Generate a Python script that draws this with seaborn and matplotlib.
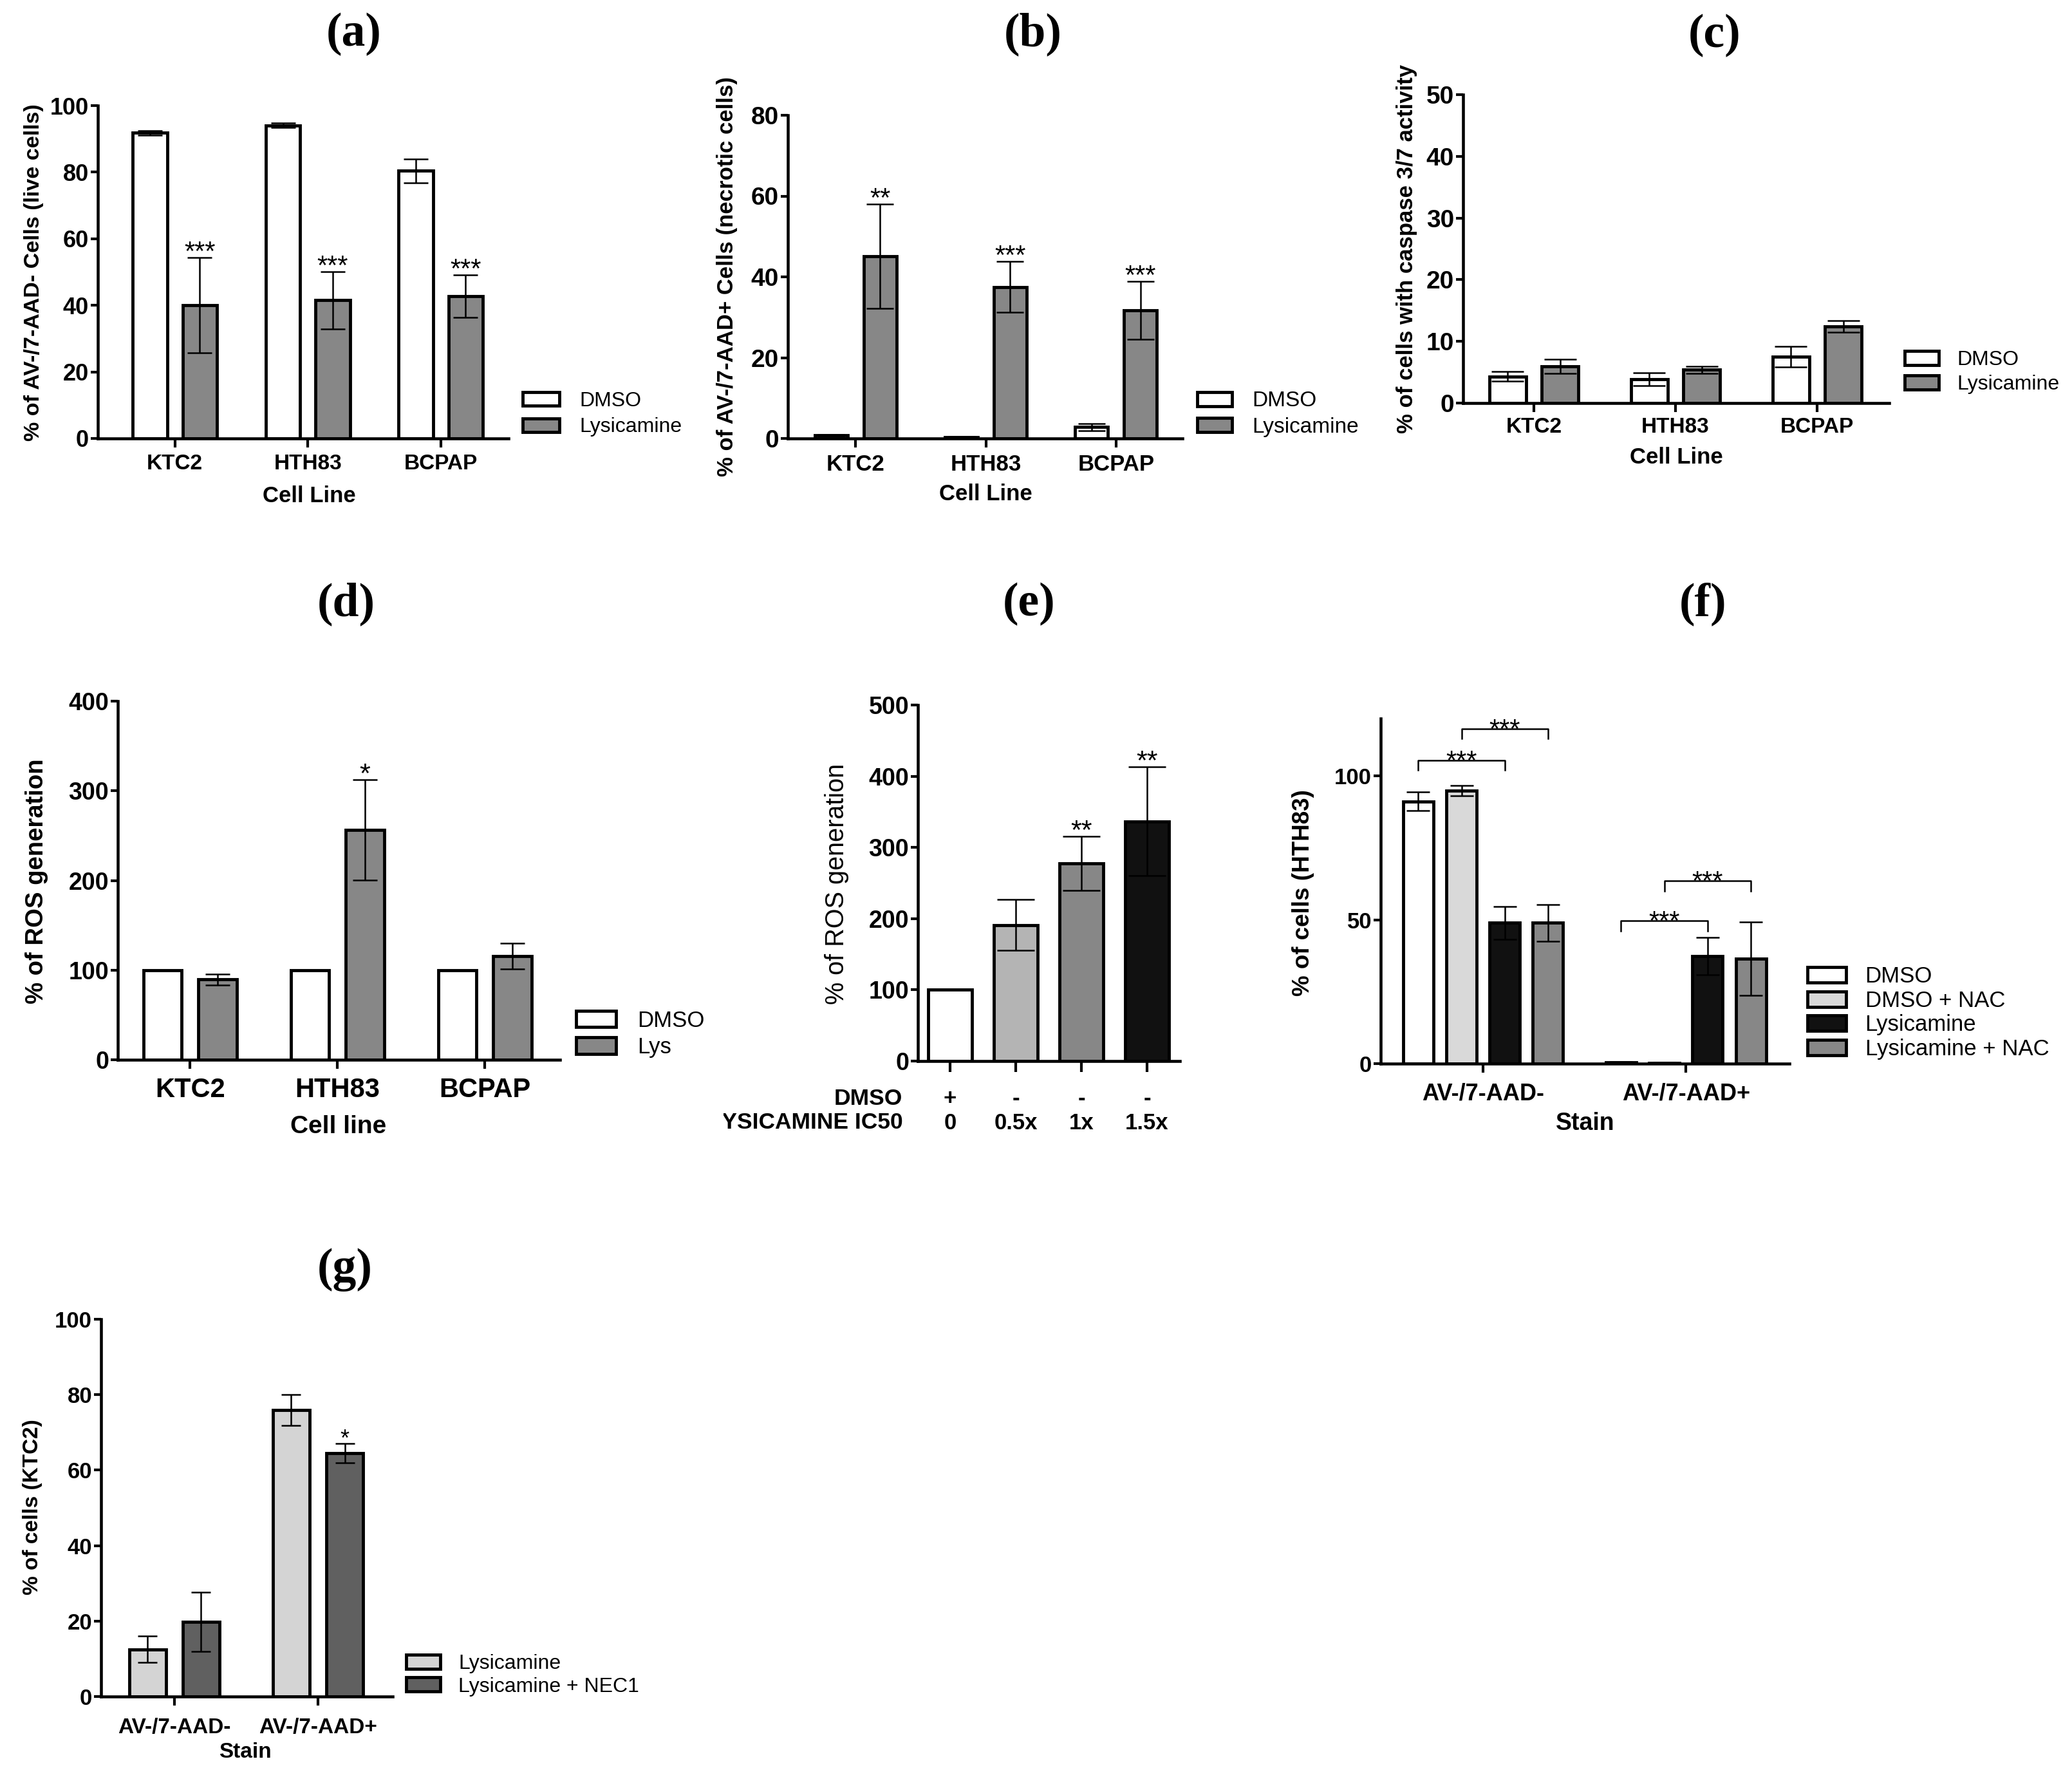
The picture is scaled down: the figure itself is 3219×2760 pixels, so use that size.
import pandas as pd
import matplotlib
matplotlib.use('Agg')
import matplotlib.pyplot as plt
import seaborn as sns
from matplotlib.patches import Patch
from matplotlib.transforms import Bbox, TransformedBbox

# ---------------- data ----------------
cell_lines = ['KTC2', 'HTH83', 'BCPAP']
treat_ab = ['DMSO', 'Lysicamine']

# (a) live cells
a_dmso = [91.8, 94.1, 80.4]
a_dmso_err = [0.7, 0.6, 3.6]
a_lys = [40.0, 41.5, 42.7]
a_lys_err = [14.3, 8.6, 6.4]
a_stars = ['', '', '', '***', '***', '***']

# (b) necrotic cells
b_dmso = [0.8, 0.3, 2.8]
b_dmso_err = [0.2, 0.1, 0.9]
b_lys = [45.1, 37.5, 31.7]
b_lys_err = [12.9, 6.3, 7.2]
b_stars = ['', '', '', '**', '***', '***']

# (c) caspase 3/7
c_dmso = [4.3, 3.85, 7.5]
c_dmso_err = [0.8, 1.05, 1.7]
c_lys = [6.0, 5.4, 12.4]
c_lys_err = [1.15, 0.6, 0.95]

# (d) ROS by cell line
treat_d = ['DMSO', 'Lys']
d_dmso = [100, 100, 100]
d_dmso_err = [0, 0, 0]
d_lys = [89.5, 256.4, 115.5]
d_lys_err = [6.0, 56.0, 14.5]
d_stars = ['', '', '', '', '*', '']

# (e) ROS by dose
e_dmso = ['+', '-', '-', '-']
e_ic50 = ['0', '0.5x', '1x', '1.5x']
e_ros = [100, 191.2, 277.8, 336.6]
e_err = [0, 35.4, 38.1, 76.3]
e_stars = ['', '', '**', '**']

# (f) HTH83 +/- NAC
stains = ['AV-/7-AAD-', 'AV-/7-AAD+']
treat_f = ['DMSO', 'DMSO + NAC', 'Lysicamine', 'Lysicamine + NAC']
f_dmso = [91.2, 0.5]
f_dmso_err = [3.2, 0.1]
f_dmso_nac = [95.0, 0.3]
f_dmso_nac_err = [1.8, 0.1]
f_lys = [49.0, 37.4]
f_lys_err = [5.7, 6.5]
f_lys_nac = [49.0, 36.5]
f_lys_nac_err = [6.4, 12.7]
f_br_stain = [0, 0, 1, 1]
f_br_from = [0, 1, 0, 1]
f_br_to = [2, 3, 2, 3]
f_br_y = [105.5, 116.5, 49.6, 63.5]

# (g) KTC2 +/- NEC1
treat_g = ['Lysicamine', 'Lysicamine + NEC1']
g_lys = [12.5, 76.0]
g_lys_err = [3.5, 4.1]
g_nec = [19.8, 64.5]
g_nec_err = [7.8, 2.6]
g_stars = ['', '', '', '*']

# ---------------- style ----------------
W, H = 3219, 2760
BAR_LW = 3.5
ERR_LW = 1.8
SPINE_LW = 3.3
SANS = ['Liberation Sans', 'DejaVu Sans']
SERIF = ['Liberation Serif', 'DejaVu Serif']
GRAY = '#878787'

plt.rcParams['font.family'] = SANS
fig = plt.figure(figsize=(W / 100, H / 100), dpi=100)


def fx(x):
    return x / W


def fy(y):
    return 1 - y / H


def panel(x0, y0, x1, y1):
    return fig.add_axes([fx(x0), fy(y1), (x1 - x0) / W, (y1 - y0) / H])


def grouped(ax, cats, series, names, colors, width, gap):
    df = pd.DataFrame({
        'cat': [c for _ in names for c in cats],
        'grp': [n for n in names for _ in cats],
        'val': [v for s in series for v in s],
    })
    sns.barplot(data=df, x='cat', y='val', hue='grp', order=cats, hue_order=names,
                palette=colors, saturation=1, errorbar=None, width=width, gap=gap,
                edgecolor='black', linewidth=BAR_LW, legend=False, ax=ax)
    return [p for cont in ax.containers for p in cont]


def mid(r):
    return r.get_x() + r.get_width() / 2


def errbars(ax, rects, errs, capsize):
    ax.errorbar([mid(r) for r in rects], [r.get_height() for r in rects], yerr=errs,
                fmt='none', ecolor='black', elinewidth=ERR_LW, capsize=capsize,
                capthick=ERR_LW)


def stars(ax, rects, errs, marks, fs, dy=-3):
    for r, e, m in zip(rects, errs, marks):
        if m:
            ax.annotate(m, xy=(mid(r), r.get_height() + e), xytext=(0, dy),
                        textcoords='offset points', ha='center', va='baseline',
                        fontsize=fs)


def style(ax, cats, xlim, ylim, yticks, ytick_fs, xtick_fs, xpad,
          ylabel, ylabel_fs, ylab_xy, xlabel=None, xlabel_fs=None, xlab_xy=None,
          ylabel_weight='bold'):
    ax.set_xlim(*xlim)
    ax.set_ylim(*ylim)
    ax.set_yticks(yticks, labels=[str(v) for v in yticks], fontweight='bold',
                  fontsize=ytick_fs)
    if cats is not None:
        ax.set_xticks(range(len(cats)), labels=cats, fontweight='bold',
                      fontsize=xtick_fs)
    sns.despine(ax=ax)
    for s in ('left', 'bottom'):
        ax.spines[s].set_linewidth(SPINE_LW)
    ax.tick_params(axis='x', length=10, width=3, pad=xpad)
    ax.tick_params(axis='y', length=8, width=3, pad=2)
    ax.set_ylabel(ylabel, fontsize=ylabel_fs, fontweight=ylabel_weight)
    ax.yaxis.set_label_coords(fx(ylab_xy[0]), fy(ylab_xy[1]), transform=fig.transFigure)
    ax.yaxis.label.set_va('center')
    if xlabel:
        ax.set_xlabel(xlabel, fontsize=xlabel_fs, fontweight='bold')
        ax.xaxis.set_label_coords(fx(xlab_xy[0]), fy(xlab_xy[1]),
                                  transform=fig.transFigure)
        ax.xaxis.label.set_va('center')
    else:
        ax.set_xlabel('')


def legend(ax, labels, colors, x, yc, fs, hl, hh, ls, tp):
    handles = [Patch(facecolor=c, edgecolor='black', linewidth=BAR_LW) for c in colors]
    ax.legend(handles, labels, loc='center left', bbox_to_anchor=(fx(x), fy(yc)),
              bbox_transform=fig.transFigure, frameon=False,
              prop={'size': fs, 'weight': 'normal'}, handlelength=hl, handleheight=hh,
              labelspacing=ls, handletextpad=tp, borderpad=0, borderaxespad=0)


def title(x, y, s):
    fig.text(fx(x), fy(y), s, ha='center', va='center', fontsize=53,
             fontweight='bold', family=SERIF)


# ---------------- (a) ----------------
ax = panel(152, 164, 790, 681)
r = grouped(ax, cell_lines, [a_dmso, a_lys], treat_ab, ['white', GRAY], 0.75, 0.31)
errs = a_dmso_err + a_lys_err
errbars(ax, r, errs, 14)
stars(ax, r, errs, a_stars, 30)
style(ax, cell_lines, (-0.58, 2.51), (0, 100), [0, 20, 40, 60, 80, 100], 26, 24, 7,
      '% of AV-/7-AAD- Cells (live cells)', 24.5, (53, 423), 'Cell Line', 25, (480, 770))
legend(ax, treat_ab, ['white', GRAY], 812, 643, 23, 1.78, 0.62, 0.34, 1.0)
title(550, 53, '(a)')

# ---------------- (b) ----------------
ax = panel(1224, 179, 1837, 681)
r = grouped(ax, cell_lines, [b_dmso, b_lys], treat_ab, ['white', GRAY], 0.75, 0.33)
errs = b_dmso_err + b_lys_err
errbars(ax, r, errs, 15)
stars(ax, r, errs, b_stars, 30)
style(ax, cell_lines, (-0.52, 2.51), (0, 80), [0, 20, 40, 60, 80], 28, 25, 7,
      '% of AV-/7-AAD+ Cells (necrotic cells)', 25, (1130, 430), 'Cell Line', 25,
      (1531, 768))
legend(ax, treat_ab, ['white', GRAY], 1860, 643, 24, 1.63, 0.64, 0.28, 0.94)
title(1605, 53, '(b)')

# ---------------- (c) ----------------
ax = panel(2273, 147, 2935, 626)
r = grouped(ax, cell_lines, [c_dmso, c_lys], treat_ab, ['white', GRAY], 0.74, 0.30)
errbars(ax, r, c_dmso_err + c_lys_err, 18)
style(ax, cell_lines, (-0.5, 2.51), (0, 50), [0, 10, 20, 30, 40, 50], 28, 24, 5.5,
      '% of cells with caspase 3/7 activity', 25, (2186, 386), 'Cell Line', 25,
      (2604, 710))
legend(ax, treat_ab, ['white', GRAY], 2959, 578, 23, 1.66, 0.66, 0.25, 0.9)
title(2664, 55, '(c)')

# ---------------- (d) ----------------
ax = panel(183, 1089, 870, 1646)
r = grouped(ax, cell_lines, [d_dmso, d_lys], treat_d, ['white', GRAY], 0.745, 0.30)
errs = d_dmso_err + d_lys_err
errbars(ax, r, errs, 14)
stars(ax, r, errs, d_stars, 31)
style(ax, cell_lines, (-0.49, 2.51), (0, 400), [0, 100, 200, 300, 400], 27, 30, 9.5,
      '% of ROS generation', 27.5, (57, 1369), 'Cell line', 28, (526, 1750))
legend(ax, treat_d, ['white', GRAY], 895, 1606, 25, 1.78, 0.75, 0.24, 0.97)
title(538, 938, '(d)')

# ---------------- (e) ----------------
ax = panel(1426, 1095, 1833, 1648)
e_colors = ['white', '#b4b4b4', GRAY, '#111111']
df_e = pd.DataFrame({'dose': e_ic50, 'ros': e_ros})
sns.barplot(data=df_e, x='dose', y='ros', hue='dose', order=e_ic50, hue_order=e_ic50,
            palette=e_colors, saturation=1, errorbar=None, width=0.66,
            edgecolor='black', linewidth=BAR_LW, legend=False, ax=ax)
r = [p for cont in ax.containers for p in cont]
errbars(ax, r, e_err, 21)
stars(ax, r, e_err, e_stars, 31)
style(ax, None, (-0.49, 3.5), (0, 500), [0, 100, 200, 300, 400, 500], 27, 25, 18,
      '% of ROS generation', 28.5, (1300, 1373), ylabel_weight='normal')
ax.set_xticks(range(4), labels=[f'{d}\n{i}' for d, i in zip(e_dmso, e_ic50)],
              fontweight='bold', fontsize=25, linespacing=1.2)
ax.tick_params(axis='x', length=12)
hdr = ax.annotate('DMSO\nLYSICAMINE IC50', xy=(0, 0), xycoords='axes fraction',
                  xytext=(-17, -(12 + 18)), textcoords='offset points', ha='right',
                  va='top', multialignment='right', fontsize=25.5, fontweight='bold',
                  linespacing=1.18, annotation_clip=False)
hdr.set_clip_on(True)
hdr.set_clip_box(TransformedBbox(Bbox.from_extents(fx(1124), 0, 1, 1), fig.transFigure))
title(1599, 938, '(e)')

# ---------------- (f) ----------------
ax = panel(2145, 1116, 2780, 1652)
f_colors = ['white', '#d9d9d9', '#111111', GRAY]
r = grouped(ax, stains, [f_dmso, f_dmso_nac, f_lys, f_lys_nac], treat_f, f_colors,
            0.853, 0.30)
errbars(ax, r, f_dmso_err + f_dmso_nac_err + f_lys_err + f_lys_nac_err, 13)
for s, i0, i1, y in zip(f_br_stain, f_br_from, f_br_to, f_br_y):
    x0, x1 = mid(r[i0 * 2 + s]), mid(r[i1 * 2 + s])
    ax.plot([x0, x0, x1, x1], [y - 3.5, y, y, y - 3.5], color='black', lw=ERR_LW)
    ax.annotate('***', xy=((x0 + x1) / 2, y), xytext=(0, -10), textcoords='offset points',
                ha='center', va='baseline', fontsize=30)
style(ax, stains, (-0.505, 1.51), (0, 120), [0, 50, 100], 25, 26, 11,
      '% of cells (HTH83)', 26.5, (2024, 1387), 'Stain', 27, (2463, 1745))
legend(ax, treat_f, f_colors, 2808, 1573, 25, 1.72, 0.69, 0.13, 0.86)
title(2646, 938, '(f)')

# ---------------- (g) ----------------
ax = panel(157, 2049, 610, 2635)
g_colors = ['#d4d4d4', '#606060']
r = grouped(ax, stains, [g_lys, g_nec], treat_g, g_colors, 0.745, 0.31)
errs = g_lys_err + g_nec_err
errbars(ax, r, errs, 11)
stars(ax, r, errs, g_stars, 26)
style(ax, stains, (-0.51, 1.52), (0, 100), [0, 20, 40, 60, 80, 100], 25, 24, 14,
      '% of cells (KTC2)', 24, (51, 2341), 'Stain', 24, (381, 2721))
legend(ax, treat_g, g_colors, 631, 2602, 23, 1.66, 0.69, 0.16, 0.875)
title(536, 1972, '(g)')

fig.savefig('out.png', dpi=100, facecolor='white')
